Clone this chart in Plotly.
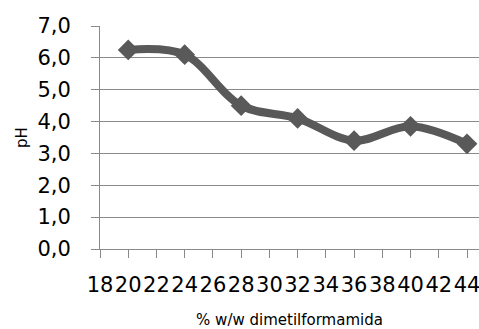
import plotly.graph_objects as go

# % w/w dimethylformamide vs measured pH
dmf_pct = [20, 24, 28, 32, 36, 40, 44]
ph_values = [6.25, 6.1, 4.5, 4.1, 3.4, 3.85, 3.3]

line_color = "#595959"
grid_color = "#898989"
font_family = "DejaVu Sans"

fig = go.Figure()
fig.add_trace(go.Scatter(
    x=dmf_pct,
    y=ph_values,
    mode="lines+markers",
    line=dict(color=line_color, width=8, shape="spline", smoothing=1.0),
    marker=dict(symbol="diamond", size=16, color=line_color),
    showlegend=False,
))

fig.update_layout(
    width=479,
    height=329,
    margin=dict(l=100, r=0, t=26, b=80),
    paper_bgcolor="white",
    plot_bgcolor="white",
    separators=",.",
    font=dict(family=font_family, color="black"),
)

fig.update_xaxes(
    range=[18, 44.85],
    tick0=18,
    dtick=2,
    tickangle=0,
    ticklabeloverflow="allow",
    showgrid=False,
    zeroline=False,
    showline=True,
    linecolor=grid_color,
    linewidth=1,
    ticks="outside",
    ticklen=8,
    tickcolor=grid_color,
    tickfont=dict(size=21, family=font_family),
    ticklabelstandoff=9,
    title=dict(text="% w/w dimetilformamida", font=dict(size=15, family=font_family), standoff=20),
)

fig.update_yaxes(
    range=[0, 7],
    dtick=1,
    tickformat=".1f",
    showgrid=True,
    gridcolor=grid_color,
    gridwidth=1,
    zeroline=False,
    showline=True,
    linecolor=grid_color,
    linewidth=1,
    ticks="outside",
    ticklen=8,
    tickcolor=grid_color,
    tickfont=dict(size=21, family=font_family),
    ticklabelstandoff=16,
    title=dict(text="pH", font=dict(size=15, family=font_family), standoff=6),
)

fig.write_html("out.html")
